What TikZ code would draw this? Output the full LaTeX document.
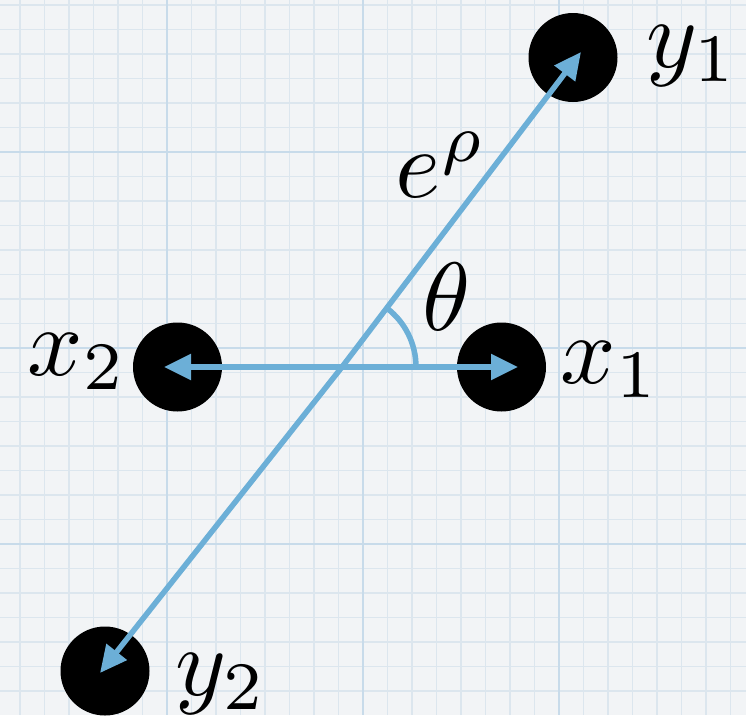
\documentclass[tikz,border=0pt]{standalone}
\usetikzlibrary{arrows.meta}
\definecolor{paper}{RGB}{242,244,246}
\definecolor{minorgrid}{RGB}{220,230,238}
\definecolor{majorgrid}{RGB}{200,219,234}
\definecolor{arrowblue}{RGB}{108,175,215}
\tikzset{
  dot/.style={circle,fill=black,minimum size=89pt,inner sep=0pt},
  lbl/.style={scale=9.7,inner sep=0pt,anchor=base west},
  conn/.style={draw=arrowblue,line width=5.5pt},
  tipped/.style={conn,{Triangle[length=27pt,width=25pt]}-{Triangle[length=27pt,width=25pt]}},
  minorline/.style={draw=minorgrid,line width=1.3pt},
  majorline/.style={draw=majorgrid,line width=2pt}
}
\begin{document}
\begin{tikzpicture}[x=1pt,y=-1pt]
\useasboundingbox (0,0) rectangle (746,715);
\fill[paper] (0,0) rectangle (746,715);
% grid
\foreach \i in {0,...,29} { \draw[minorline] ({20+24.5*\i},0) -- ({20+24.5*\i},715); }
\foreach \j in {0,...,28} { \draw[minorline] (0,{5+24.5*\j}) -- (746,{5+24.5*\j}); }
\foreach \x in {167,363,559} { \draw[majorline] (\x,0) -- (\x,715); }
\foreach \y in {152,348,544} { \draw[majorline] (0,\y) -- (746,\y); }
% nodes
\node[dot] (x2) at (177.5,367) {};
\node[dot] (x1) at (501.5,367) {};
\node[dot] (y1) at (573,57.5) {};
\node[dot] (y2) at (105,671) {};
% connector ends
\coordinate (O) at (342,367);
\coordinate (x2tip) at (164,367);
\coordinate (x1tip) at (518,367);
\coordinate (y1tip) at (581,52);
\coordinate (y2tip) at (100,673);
\draw[tipped] (x2tip) -- (x1tip);
\draw[tipped] (y2tip) -- (O) -- (y1tip);
\draw[conn] (O) ++(74pt,0pt) arc[start angle=0,end angle=52.5,radius=74pt];
% labels
\node[lbl] (lx2) at (26,375) {$x_2$};
\node[lbl] (lx1) at (559,383) {$x_1$};
\node[lbl] (ly1) at (645,67) {$y_1$};
\node[lbl] (ly2) at (174,695) {$y_2$};
\node[lbl] (lth) at (421,330) {$\theta$};
\node[lbl] (lrho) at (394,197) {$e^\rho$};
\end{tikzpicture}
\end{document}
